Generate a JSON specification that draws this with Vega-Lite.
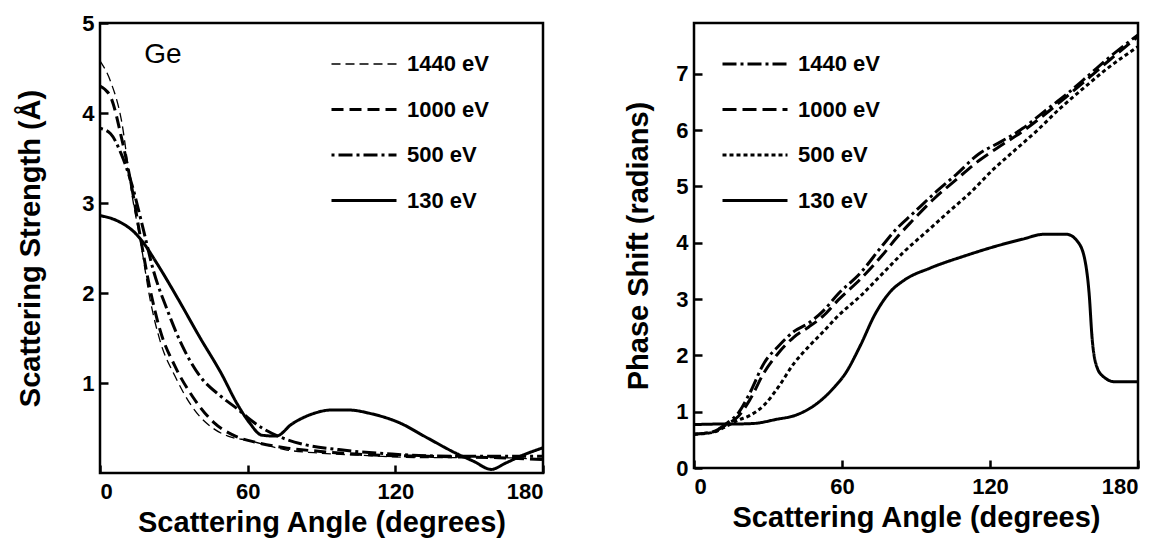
{
  "$schema": "https://vega.github.io/schema/vega-lite/v6.json",
  "background": "white",
  "padding": {"left": 15, "top": 10, "right": 5, "bottom": 2},
  "spacing": 151,
  "bounds": "flush",
  "config": {
    "view": {"stroke": "black", "strokeWidth": 2.5},
    "font": "Liberation Sans",
    "axis": {
      "grid": false, "domain": false,
      "tickColor": "black", "tickWidth": 2.5, "tickSize": -8,
      "labelPadding": 14, "labelFontSize": 22, "labelFontWeight": "bold", "labelColor": "black",
      "titleFontSize": 29, "titleFontWeight": "bold", "titleColor": "black",
      "labelFont": "Liberation Sans", "titleFont": "Liberation Sans", "format": "d"
    },
    "legend": {
      "title": null, "symbolType": "M-9,0H1", "symbolSize": 169,
      "labelFontSize": 22, "labelFontWeight": "bold", "labelColor": "black", "labelFont": "Liberation Sans",
      "rowPadding": 23.5, "padding": 0, "symbolStrokeColor": "black"
    }
  },
  "resolve": {
    "scale": {"x": "independent", "y": "independent", "strokeDash": "independent", "strokeWidth": "independent"},
    "legend": {"strokeDash": "independent", "strokeWidth": "independent"}
  },
  "datasets": {
    "left": [
      {"energy": "1440 eV", "angle": 0, "s": 4.58},
      {"energy": "1440 eV", "angle": 4.3, "s": 4.35},
      {"energy": "1440 eV", "angle": 8.7, "s": 3.92},
      {"energy": "1440 eV", "angle": 13, "s": 3.09},
      {"energy": "1440 eV", "angle": 16.6, "s": 2.55},
      {"energy": "1440 eV", "angle": 20.2, "s": 1.95},
      {"energy": "1440 eV", "angle": 24.6, "s": 1.45},
      {"energy": "1440 eV", "angle": 30.4, "s": 1.08},
      {"energy": "1440 eV", "angle": 37.6, "s": 0.73},
      {"energy": "1440 eV", "angle": 46.3, "s": 0.49},
      {"energy": "1440 eV", "angle": 52, "s": 0.41},
      {"energy": "1440 eV", "angle": 60.7, "s": 0.36},
      {"energy": "1440 eV", "angle": 75, "s": 0.26},
      {"energy": "1440 eV", "angle": 89.6, "s": 0.22},
      {"energy": "1440 eV", "angle": 104, "s": 0.2},
      {"energy": "1440 eV", "angle": 133, "s": 0.17},
      {"energy": "1440 eV", "angle": 162, "s": 0.17},
      {"energy": "1440 eV", "angle": 180, "s": 0.15},
      {"energy": "1000 eV", "angle": 0, "s": 4.3},
      {"energy": "1000 eV", "angle": 4.3, "s": 4.18},
      {"energy": "1000 eV", "angle": 8.7, "s": 3.73},
      {"energy": "1000 eV", "angle": 13, "s": 3.16},
      {"energy": "1000 eV", "angle": 16.6, "s": 2.59},
      {"energy": "1000 eV", "angle": 20.2, "s": 2.06},
      {"energy": "1000 eV", "angle": 24.6, "s": 1.57},
      {"energy": "1000 eV", "angle": 30.4, "s": 1.19},
      {"energy": "1000 eV", "angle": 37.6, "s": 0.85},
      {"energy": "1000 eV", "angle": 46.3, "s": 0.56},
      {"energy": "1000 eV", "angle": 55, "s": 0.41},
      {"energy": "1000 eV", "angle": 63.6, "s": 0.34},
      {"energy": "1000 eV", "angle": 75, "s": 0.28},
      {"energy": "1000 eV", "angle": 89.6, "s": 0.24},
      {"energy": "1000 eV", "angle": 104, "s": 0.21},
      {"energy": "1000 eV", "angle": 133, "s": 0.185},
      {"energy": "1000 eV", "angle": 162, "s": 0.17},
      {"energy": "1000 eV", "angle": 180, "s": 0.15},
      {"energy": "500 eV", "angle": 0, "s": 3.83},
      {"energy": "500 eV", "angle": 4.3, "s": 3.77},
      {"energy": "500 eV", "angle": 8.7, "s": 3.54},
      {"energy": "500 eV", "angle": 13, "s": 3.2},
      {"energy": "500 eV", "angle": 17.3, "s": 2.74},
      {"energy": "500 eV", "angle": 21.7, "s": 2.25},
      {"energy": "500 eV", "angle": 27.5, "s": 1.8},
      {"energy": "500 eV", "angle": 33.3, "s": 1.42},
      {"energy": "500 eV", "angle": 40.5, "s": 1.08},
      {"energy": "500 eV", "angle": 49.2, "s": 0.85},
      {"energy": "500 eV", "angle": 56.4, "s": 0.7},
      {"energy": "500 eV", "angle": 60.7, "s": 0.6},
      {"energy": "500 eV", "angle": 66.5, "s": 0.49},
      {"energy": "500 eV", "angle": 72.3, "s": 0.41},
      {"energy": "500 eV", "angle": 82.4, "s": 0.32},
      {"energy": "500 eV", "angle": 97, "s": 0.26},
      {"energy": "500 eV", "angle": 118.6, "s": 0.21},
      {"energy": "500 eV", "angle": 147.5, "s": 0.185},
      {"energy": "500 eV", "angle": 180, "s": 0.185},
      {"energy": "130 eV", "angle": 0, "s": 2.86},
      {"energy": "130 eV", "angle": 7.2, "s": 2.8},
      {"energy": "130 eV", "angle": 14.5, "s": 2.66},
      {"energy": "130 eV", "angle": 17.3, "s": 2.57},
      {"energy": "130 eV", "angle": 23.1, "s": 2.33},
      {"energy": "130 eV", "angle": 31.8, "s": 1.93},
      {"energy": "130 eV", "angle": 40.5, "s": 1.51},
      {"energy": "130 eV", "angle": 49.2, "s": 1.11},
      {"energy": "130 eV", "angle": 55.7, "s": 0.77},
      {"energy": "130 eV", "angle": 60.7, "s": 0.56},
      {"energy": "130 eV", "angle": 65.8, "s": 0.42},
      {"energy": "130 eV", "angle": 71.6, "s": 0.41},
      {"energy": "130 eV", "angle": 78, "s": 0.545},
      {"energy": "130 eV", "angle": 86.7, "s": 0.66},
      {"energy": "130 eV", "angle": 94, "s": 0.7},
      {"energy": "130 eV", "angle": 101, "s": 0.7},
      {"energy": "130 eV", "angle": 110, "s": 0.66},
      {"energy": "130 eV", "angle": 121.5, "s": 0.56},
      {"energy": "130 eV", "angle": 133, "s": 0.39},
      {"energy": "130 eV", "angle": 144.6, "s": 0.22},
      {"energy": "130 eV", "angle": 151.8, "s": 0.13},
      {"energy": "130 eV", "angle": 159, "s": 0.04},
      {"energy": "130 eV", "angle": 164.8, "s": 0.11},
      {"energy": "130 eV", "angle": 172, "s": 0.2},
      {"energy": "130 eV", "angle": 180, "s": 0.28}
    ],
    "right": [
      {"energy": "1440 eV", "angle": 0, "p": 0.6},
      {"energy": "1440 eV", "angle": 7.5, "p": 0.64},
      {"energy": "1440 eV", "angle": 13.5, "p": 0.8},
      {"energy": "1440 eV", "angle": 18, "p": 0.98},
      {"energy": "1440 eV", "angle": 22.5, "p": 1.32},
      {"energy": "1440 eV", "angle": 28.5, "p": 1.87},
      {"energy": "1440 eV", "angle": 34.4, "p": 2.17},
      {"energy": "1440 eV", "angle": 40.4, "p": 2.42},
      {"energy": "1440 eV", "angle": 46.4, "p": 2.57},
      {"energy": "1440 eV", "angle": 52.4, "p": 2.79},
      {"energy": "1440 eV", "angle": 58.4, "p": 3.09},
      {"energy": "1440 eV", "angle": 67.4, "p": 3.46},
      {"energy": "1440 eV", "angle": 76.4, "p": 3.95},
      {"energy": "1440 eV", "angle": 82.4, "p": 4.26},
      {"energy": "1440 eV", "angle": 88.3, "p": 4.5},
      {"energy": "1440 eV", "angle": 97.3, "p": 4.87},
      {"energy": "1440 eV", "angle": 106.3, "p": 5.21},
      {"energy": "1440 eV", "angle": 115.3, "p": 5.57},
      {"energy": "1440 eV", "angle": 124.3, "p": 5.79},
      {"energy": "1440 eV", "angle": 133.3, "p": 6.03},
      {"energy": "1440 eV", "angle": 142.3, "p": 6.34},
      {"energy": "1440 eV", "angle": 151.2, "p": 6.64},
      {"energy": "1440 eV", "angle": 160.2, "p": 6.98},
      {"energy": "1440 eV", "angle": 169.2, "p": 7.32},
      {"energy": "1440 eV", "angle": 180, "p": 7.69},
      {"energy": "1000 eV", "angle": 0, "p": 0.6},
      {"energy": "1000 eV", "angle": 7.5, "p": 0.64},
      {"energy": "1000 eV", "angle": 13.5, "p": 0.78},
      {"energy": "1000 eV", "angle": 18, "p": 0.92},
      {"energy": "1000 eV", "angle": 22.5, "p": 1.2},
      {"energy": "1000 eV", "angle": 28.5, "p": 1.7},
      {"energy": "1000 eV", "angle": 34.4, "p": 2.05},
      {"energy": "1000 eV", "angle": 40.4, "p": 2.32},
      {"energy": "1000 eV", "angle": 46.4, "p": 2.5},
      {"energy": "1000 eV", "angle": 52.4, "p": 2.7},
      {"energy": "1000 eV", "angle": 58.4, "p": 2.98},
      {"energy": "1000 eV", "angle": 67.4, "p": 3.35},
      {"energy": "1000 eV", "angle": 76.4, "p": 3.78},
      {"energy": "1000 eV", "angle": 82.4, "p": 4.1},
      {"energy": "1000 eV", "angle": 88.3, "p": 4.38},
      {"energy": "1000 eV", "angle": 97.3, "p": 4.78},
      {"energy": "1000 eV", "angle": 106.3, "p": 5.12},
      {"energy": "1000 eV", "angle": 115.3, "p": 5.45},
      {"energy": "1000 eV", "angle": 124.3, "p": 5.72},
      {"energy": "1000 eV", "angle": 133.3, "p": 5.98},
      {"energy": "1000 eV", "angle": 142.3, "p": 6.28},
      {"energy": "1000 eV", "angle": 151.2, "p": 6.6},
      {"energy": "1000 eV", "angle": 160.2, "p": 6.93},
      {"energy": "1000 eV", "angle": 169.2, "p": 7.27},
      {"energy": "1000 eV", "angle": 180, "p": 7.66},
      {"energy": "500 eV", "angle": 0, "p": 0.6},
      {"energy": "500 eV", "angle": 7.5, "p": 0.63},
      {"energy": "500 eV", "angle": 13.5, "p": 0.75},
      {"energy": "500 eV", "angle": 18, "p": 0.85},
      {"energy": "500 eV", "angle": 22.5, "p": 0.93},
      {"energy": "500 eV", "angle": 28.5, "p": 1.12},
      {"energy": "500 eV", "angle": 34.4, "p": 1.45},
      {"energy": "500 eV", "angle": 40.4, "p": 1.85},
      {"energy": "500 eV", "angle": 46.4, "p": 2.15},
      {"energy": "500 eV", "angle": 52.4, "p": 2.42},
      {"energy": "500 eV", "angle": 58.4, "p": 2.7},
      {"energy": "500 eV", "angle": 67.4, "p": 3.05},
      {"energy": "500 eV", "angle": 76.4, "p": 3.45},
      {"energy": "500 eV", "angle": 85.4, "p": 3.85},
      {"energy": "500 eV", "angle": 94.4, "p": 4.2},
      {"energy": "500 eV", "angle": 103.3, "p": 4.55},
      {"energy": "500 eV", "angle": 112.3, "p": 4.9},
      {"energy": "500 eV", "angle": 121.3, "p": 5.3},
      {"energy": "500 eV", "angle": 130.3, "p": 5.65},
      {"energy": "500 eV", "angle": 139.3, "p": 6.0},
      {"energy": "500 eV", "angle": 148.3, "p": 6.38},
      {"energy": "500 eV", "angle": 157.3, "p": 6.72},
      {"energy": "500 eV", "angle": 166.3, "p": 7.05},
      {"energy": "500 eV", "angle": 180, "p": 7.48},
      {"energy": "130 eV", "angle": 0, "p": 0.77},
      {"energy": "130 eV", "angle": 10.5, "p": 0.78},
      {"energy": "130 eV", "angle": 15, "p": 0.78},
      {"energy": "130 eV", "angle": 24, "p": 0.79},
      {"energy": "130 eV", "angle": 33, "p": 0.86},
      {"energy": "130 eV", "angle": 42, "p": 0.95},
      {"energy": "130 eV", "angle": 49.4, "p": 1.13},
      {"energy": "130 eV", "angle": 57, "p": 1.44},
      {"energy": "130 eV", "angle": 61.4, "p": 1.68},
      {"energy": "130 eV", "angle": 67.4, "p": 2.17},
      {"energy": "130 eV", "angle": 73.4, "p": 2.73},
      {"energy": "130 eV", "angle": 79.4, "p": 3.12},
      {"energy": "130 eV", "angle": 85.4, "p": 3.34},
      {"energy": "130 eV", "angle": 95.8, "p": 3.55},
      {"energy": "130 eV", "angle": 110.8, "p": 3.78},
      {"energy": "130 eV", "angle": 121, "p": 3.92},
      {"energy": "130 eV", "angle": 133, "p": 4.06},
      {"energy": "130 eV", "angle": 142, "p": 4.15},
      {"energy": "130 eV", "angle": 151, "p": 4.15},
      {"energy": "130 eV", "angle": 155.7, "p": 4.01},
      {"energy": "130 eV", "angle": 158.7, "p": 3.64},
      {"energy": "130 eV", "angle": 160.2, "p": 3.09},
      {"energy": "130 eV", "angle": 161.4, "p": 2.3},
      {"energy": "130 eV", "angle": 163.2, "p": 1.81},
      {"energy": "130 eV", "angle": 166, "p": 1.62},
      {"energy": "130 eV", "angle": 170.7, "p": 1.53},
      {"energy": "130 eV", "angle": 180, "p": 1.53}
    ]
  },
  "hconcat": [
    {
      "width": 443,
      "height": 450,
      "layer": [
        {
          "data": {"name": "left"},
          "mark": {"type": "line", "interpolate": "monotone", "color": "black", "strokeCap": "butt"},
          "encoding": {
            "x": {"field": "angle", "type": "quantitative", "scale": {"domain": [0, 180], "nice": false},
                  "axis": {"values": [0, 60, 120, 180], "title": "Scattering Angle (degrees)", "titlePadding": 6, "labelPadding": 16}},
            "y": {"field": "s", "type": "quantitative", "scale": {"domain": [0, 5], "nice": false},
                  "axis": {"values": [1, 2, 3, 4, 5], "title": "Scattering Strength (Å)", "titlePadding": 36}},
            "strokeDash": {"field": "energy", "type": "nominal",
              "scale": {"domain": ["1440 eV", "1000 eV", "500 eV", "130 eV"], "range": [[9, 5], [12, 6], [3, 4, 14, 4], [1, 0]]},
              "legend": {"orient": "none", "legendX": 279, "legendY": 30, "labelOffset": 6}},
            "strokeWidth": {"field": "energy", "type": "nominal",
              "scale": {"type": "ordinal", "domain": ["1440 eV", "1000 eV", "500 eV", "130 eV"], "range": [1.3, 3, 3, 3]},
              "legend": {"orient": "none", "legendX": 279, "legendY": 30, "labelOffset": 6}}
          }
        },
        {
          "data": {"values": [{}]},
          "mark": {"type": "text", "text": "Ge", "fontSize": 28, "font": "Liberation Sans", "align": "left", "baseline": "middle", "color": "black"},
          "encoding": {"x": {"datum": 18}, "y": {"datum": 4.64}}
        }
      ]
    },
    {
      "width": 444,
      "height": 445,
      "data": {"name": "right"},
      "mark": {"type": "line", "interpolate": "monotone", "color": "black", "strokeWidth": 3, "strokeCap": "butt"},
      "encoding": {
        "x": {"field": "angle", "type": "quantitative", "scale": {"domain": [0, 180], "nice": false},
              "axis": {"values": [0, 60, 120, 180], "title": "Scattering Angle (degrees)", "titlePadding": 6, "labelPadding": 16}},
        "y": {"field": "p", "type": "quantitative", "scale": {"domain": [0, 7.9], "nice": false},
              "axis": {"values": [0, 1, 2, 3, 4, 5, 6, 7], "title": "Phase Shift (radians)", "titlePadding": 22}},
        "strokeDash": {"field": "energy", "type": "nominal",
          "scale": {"domain": ["1440 eV", "1000 eV", "500 eV", "130 eV"], "range": [[14, 4, 3, 4], [14, 6], [4, 3], [1, 0]]},
          "legend": {"orient": "none", "legendX": 76, "legendY": 30, "labelOffset": 6, "symbolStrokeWidth": 3}}
      }
    }
  ]
}
